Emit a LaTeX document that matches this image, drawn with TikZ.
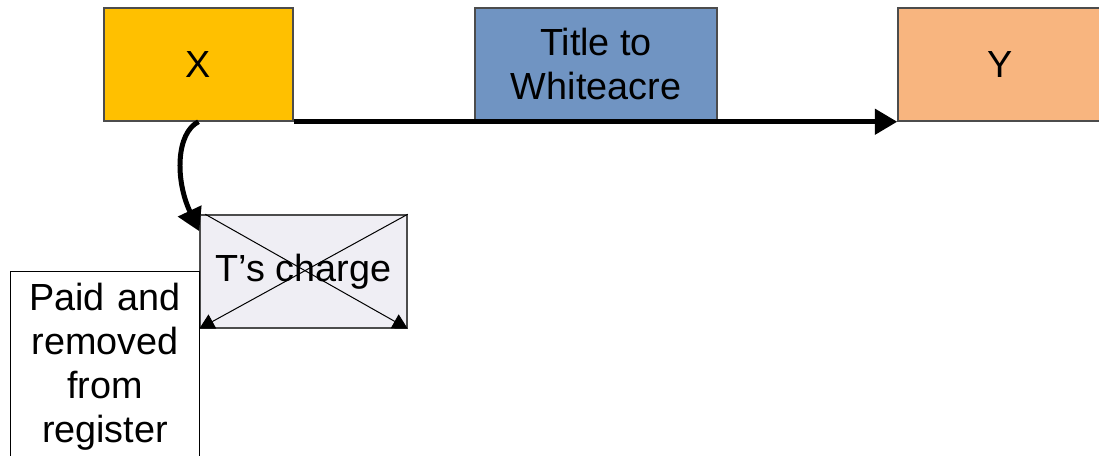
\documentclass[tikz,border=0pt]{standalone}
\usepackage{fontspec}
\setmainfont{Liberation Sans}
\usetikzlibrary{arrows.meta}
\definecolor{xgold}{HTML}{FFC000}
\definecolor{titleblue}{HTML}{7094C2}
\definecolor{ypeach}{HTML}{F8B57F}
\definecolor{chargegrey}{HTML}{EFEEF4}
\tikzset{
	box/.style={draw=black!70, line width=0.3mm, inner sep=0pt, align=center,
		font=\fontsize{21.5}{25}\selectfont},
	flow/.style={line width=1mm, -{Triangle[length=4.5mm,width=5mm]}},
	cross/.style={line width=0.2mm, -{Triangle[length=3mm,width=3.2mm]}}
}

\begin{document}
\begin{tikzpicture}[x=0.02cm, y=-0.02cm]
		%%%%% START %%%%%
		
		\useasboundingbox (0, 0) rectangle (1099, 456);
		
		\node[box, fill=xgold, minimum width=3.78cm, minimum height=2.26cm] (x) at (198.5, 64.5) {X};
		\node[box, fill=titleblue, minimum width=4.84cm, minimum height=2.24cm] (title) at (596, 64) {Title to\\Whiteacre};
		\node[box, fill=ypeach, minimum width=4.08cm, minimum height=2.26cm] (y) at (1000, 64.5) {Y};
		
		\node[box, fill=chargegrey, minimum width=4.14cm, minimum height=2.26cm] (charge) at (303.5, 271.5) {T's charge};
		\node[box, draw=black, line width=0.2mm, fill=white, text width=3.8cm, minimum height=3.82cm] (paid) at (105, 366.5) {Paid and\\removed\\from\\register};
		
		\draw[flow] (x.south) .. controls (176, 133) and (175, 180) .. ([yshift=-0.34cm]charge.north west);
		\draw[flow] (x.south east) -- (y.south west);
		
		\draw[cross] ([xshift=0.12cm]charge.north west) -- (charge.south east);
		\draw[cross] (charge.north east) -- (charge.south west);
		
		%%%%% END %%%%%
	\end{tikzpicture}
\end{document}
